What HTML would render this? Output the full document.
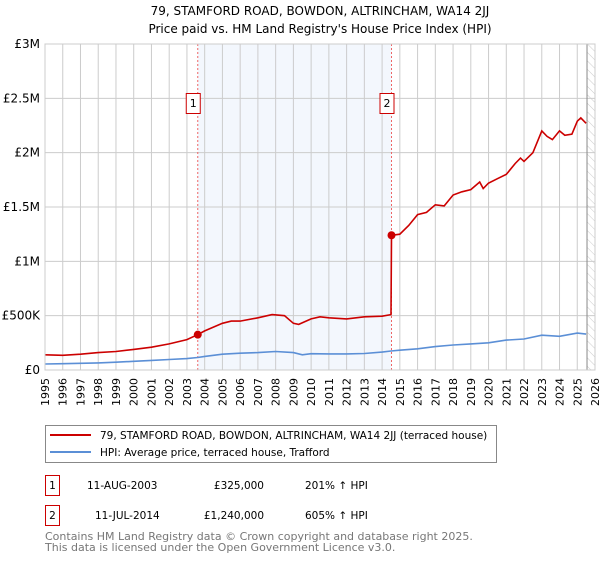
<!DOCTYPE html>
<html><head><meta charset="utf-8"><style>
body{margin:0;background:#fff;font-family:"DejaVu Sans","Liberation Sans",sans-serif;}
svg text{font-family:"DejaVu Sans","Liberation Sans",sans-serif;}
</style></head><body>
<svg id="c" width="600" height="560" xmlns="http://www.w3.org/2000/svg">
<defs><pattern id="hatch" width="6" height="6" patternUnits="userSpaceOnUse" patternTransform="rotate(-45)"><line x1="0" y1="0" x2="0" y2="6" stroke="#ccc" stroke-width="1"/></pattern></defs>
<text x="320" y="15" text-anchor="middle" font-size="12">79, STAMFORD ROAD, BOWDON, ALTRINCHAM, WA14 2JJ</text>
<text x="320" y="33" text-anchor="middle" font-size="12">Price paid vs. HM Land Registry's House Price Index (HPI)</text>
<g id="plot"></g>
<g>
<rect x="45.5" y="425.5" width="451" height="37" fill="#fff" stroke="#888"/>
<line x1="50" y1="435" x2="91" y2="435" stroke="#cc0000" stroke-width="2"/>
<text x="100" y="439" font-size="10.5">79, STAMFORD ROAD, BOWDON, ALTRINCHAM, WA14 2JJ (terraced house)</text>
<line x1="50" y1="452" x2="91" y2="452" stroke="#5b8fd6" stroke-width="2"/>
<text x="100" y="456" font-size="10.5">HPI: Average price, terraced house, Trafford</text>
</g>
<g font-size="10.5">
<rect x="45.5" y="475.5" width="14" height="20" fill="#fff" stroke="#cc0000"/><text x="52.5" y="489" text-anchor="middle">1</text>
<text x="87" y="489">11-AUG-2003</text><text x="264" y="489" text-anchor="end">£325,000</text><text x="305" y="489">201% ↑ HPI</text>
<rect x="45.5" y="505.5" width="14" height="20" fill="#fff" stroke="#cc0000"/><text x="52.5" y="519" text-anchor="middle">2</text>
<text x="95" y="519">11-JUL-2014</text><text x="264" y="519" text-anchor="end">£1,240,000</text><text x="305" y="519">605% ↑ HPI</text>
</g>
<text x="45" y="540" font-size="11" fill="#777">Contains HM Land Registry data © Crown copyright and database right 2025.</text>
<text x="45" y="551" font-size="11" fill="#777">This data is licensed under the Open Government Licence v3.0.</text>
</svg>
<script>
const yearTicks=[1995,1996,1997,1998,1999,2000,2001,2002,2003,2004,2005,2006,2007,2008,2009,2010,2011,2012,2013,2014,2015,2016,2017,2018,2019,2020,2021,2022,2023,2024,2025,2026];
const yTicks=[0,500000,1000000,1500000,2000000,2500000,3000000];
const yTickLabels=["£0","£500K","£1M","£1.5M","£2M","£2.5M","£3M"];
const propT=[1995,1996,1997,1998,1999,2000,2001,2002,2003,2003.6,2004,2005,2005.5,2006,2007,2007.8,2008.5,2009,2009.3,2010,2010.5,2011,2012,2013,2014,2014.5,2014.53,2015,2015.5,2016,2016.5,2017,2017.5,2018,2018.5,2019,2019.5,2019.7,2020,2020.5,2021,2021.5,2021.8,2022,2022.5,2023,2023.3,2023.6,2024,2024.3,2024.7,2025,2025.2,2025.5];
const propV=[140000,135000,145000,160000,170000,190000,210000,240000,280000,325000,360000,430000,450000,450000,480000,510000,500000,430000,420000,470000,490000,480000,470000,490000,495000,510000,1240000,1250000,1330000,1430000,1450000,1520000,1510000,1610000,1640000,1660000,1730000,1670000,1720000,1760000,1800000,1900000,1950000,1920000,2000000,2200000,2150000,2120000,2200000,2160000,2170000,2290000,2320000,2270000];
const hpiT=[1995,1996,1997,1998,1999,2000,2001,2002,2003,2003.6,2004,2005,2006,2007,2008,2009,2009.5,2010,2011,2012,2013,2014,2014.5,2015,2016,2017,2018,2019,2020,2021,2022,2023,2024,2025,2025.5];
const hpiV=[55000,58000,62000,65000,72000,80000,88000,97000,105000,115000,125000,145000,155000,160000,170000,160000,140000,150000,148000,148000,152000,165000,175000,182000,195000,215000,230000,240000,250000,275000,285000,320000,310000,340000,330000];
const sales=[{t:2003.61,v:325000,n:"1"},{t:2014.53,v:1240000,n:"2"}];
const X0=45,X1=595,Y0=370,Y1=44;
const xs=t=>X0+(t-1995)/31*(X1-X0);
const ys=v=>Y0-v/3000000*(Y0-Y1);
const NS="http://www.w3.org/2000/svg";
const g=document.getElementById('plot');
function mk(tag,at){const e=document.createElementNS(NS,tag);for(const k in at)e.setAttribute(k,at[k]);g.appendChild(e);return e;}
let e;
e=mk('rect',{x:xs(sales[0].t),y:Y1,width:xs(sales[1].t)-xs(sales[0].t),height:Y0-Y1,fill:'#eef3fc',opacity:0.7});


e=mk('rect',{x:xs(2025.55),y:Y1,width:X1-xs(2025.55),height:Y0-Y1,fill:'url(#hatch)'});


yearTicks.forEach(y=>{
 e=mk('line',{x1:xs(y),x2:xs(y),y1:Y1,y2:Y0,stroke:'#ccc','stroke-width':1});
 
 
 e=mk('text',{x:0,y:0,'font-size':11,'text-anchor':'end',transform:`translate(${xs(y)+4},${Y0+8}) rotate(-90)`});
 e.textContent=y;
 
 
});
yTicks.forEach((v,i)=>{
 e=mk('line',{x1:X0,x2:X1,y1:ys(v),y2:ys(v),stroke:'#ccc','stroke-width':1});
 
 
 e=mk('text',{x:X0-5,y:ys(v)+4,'font-size':12,'text-anchor':'end'});
 e.textContent=yTickLabels[i];
 
 
});
e=mk('line',{x1:xs(2025.55),x2:xs(2025.55),y1:Y1,y2:Y0,stroke:'#888','stroke-width':1});


sales.forEach(s=>{
 e=mk('line',{x1:xs(s.t),x2:xs(s.t),y1:Y1,y2:Y0,stroke:'#e66','stroke-width':1,'stroke-dasharray':'2,2'});
 
 
 e=mk('rect',{x:xs(s.t)-11.5,y:93.5,width:14,height:20,fill:'#fff',stroke:'#cc0000'});
 
 
 e=mk('text',{x:xs(s.t)-4.5,y:107,'font-size':11,'text-anchor':'middle'});
 e.textContent=s.n;
 
 
});
e=mk('path',{d:hpiT.map((t,i)=>(i?'L':'M')+xs(t).toFixed(1)+','+ys(hpiV[i]).toFixed(1)).join(''),fill:'none',stroke:'#5b8fd6','stroke-width':1.6});


e=mk('path',{d:propT.map((t,i)=>(i?'L':'M')+xs(t).toFixed(1)+','+ys(propV[i]).toFixed(1)).join(''),fill:'none',stroke:'#cc0000','stroke-width':1.6});


sales.forEach(s=>{
 e=mk('circle',{cx:xs(s.t),cy:ys(s.v),r:4,fill:'#cc0000'});
 
 
});
e=mk('rect',{x:X0,y:Y1,width:X1-X0,height:Y0-Y1,fill:'none',stroke:'#ccc'});


</script>
</body></html>
